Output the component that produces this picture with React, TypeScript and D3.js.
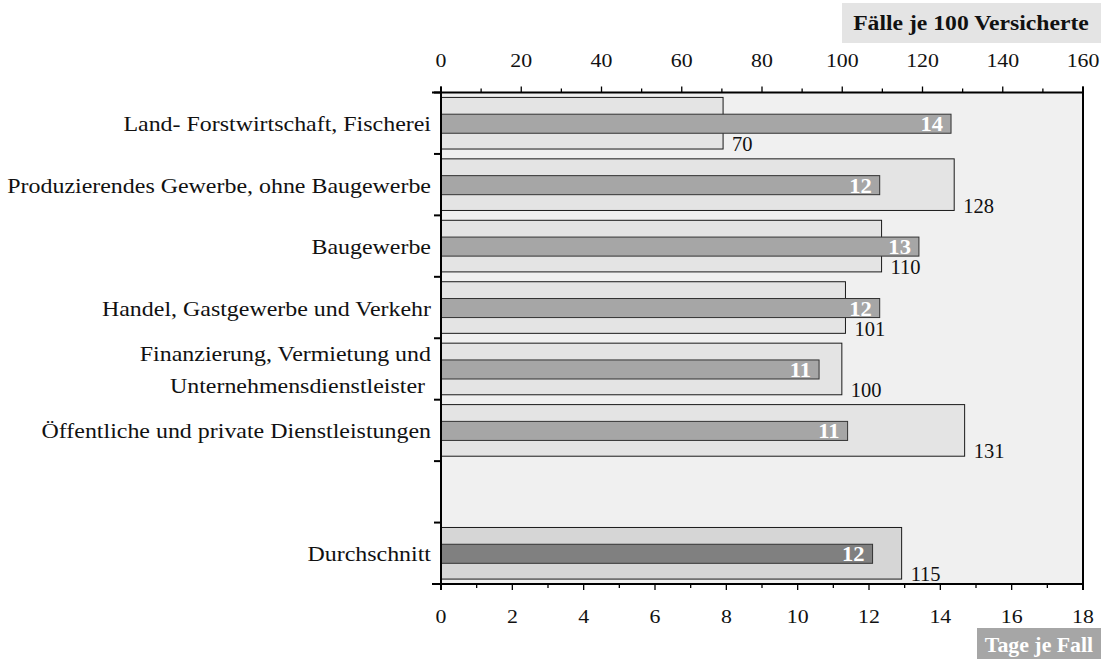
import React from "react";
import * as d3 from "d3";

const categories = [
  "Land- Forstwirtschaft, Fischerei",
  "Produzierendes Gewerbe, ohne Baugewerbe",
  "Baugewerbe",
  "Handel, Gastgewerbe und Verkehr",
  "Finanzierung, Vermietung und|Unternehmensdienstleister",
  "Öffentliche und private Dienstleistungen",
  "",
  "Durchschnitt",
];
const faelle: (number | null)[] = [70.3, 127.9, 109.8, 100.8, 99.9, 130.5, null, 114.8];
const tage: (number | null)[] = [14.3, 12.3, 13.4, 12.3, 10.6, 11.4, null, 12.1];
const topTicks = [0, 20, 40, 60, 80, 100, 120, 140, 160];
const bottomTicks = [0, 2, 4, 6, 8, 10, 12, 14, 16, 18];
const topTitle = "Fälle je 100 Versicherte";
const bottomTitle = "Tage je Fall";

const W = 1101, H = 659;
const L = 441, R = 1083, T = 92.5, B = 584;
const serif = "'Liberation Serif', 'Times New Roman', serif";

export default function App() {
  const xF = d3.scaleLinear().domain([0, 160]).range([L, R]);
  const xT = d3.scaleLinear().domain([0, 18]).range([L, R]);
  const y = d3.scaleBand<string>().domain(categories.map((c, i) => i + "")).range([T, B]).padding(0);
  const bw = y.bandwidth();
  const lightH = bw * 0.84;
  const darkH = bw * 0.31;
  const boundaries = d3.range(categories.length + 1).map((i) => T + i * bw);
  const minorTop = d3.range(0, 161, 10);
  const minorBottom = d3.range(0, 19, 1);
  const sx = 1.14;

  return (
    <svg width={W} height={H} style={{ position: "absolute", left: 0, top: 0, background: "#fff" }}>
      <rect x={L} y={T} width={R - L} height={B - T} fill="#f0f0f0" />
      {categories.map((c, i) => {
        const f = faelle[i];
        const t = tage[i];
        if (f == null || t == null) return null;
        const cy = (y(i + "") as number) + bw / 2;
        const avg = c === "Durchschnitt";
        return (
          <g key={i}>
            <rect x={L} y={cy - lightH / 2} width={xF(f) - L} height={lightH}
              fill={avg ? "#d6d6d6" : "#e4e4e4"} stroke="#1a1a1a" strokeWidth={1} />
            <rect x={L} y={cy - darkH / 2 + 0.5} width={xT(t) - L} height={darkH}
              fill={avg ? "#808080" : "#a6a6a6"} stroke="#333" strokeWidth={1} />
            <text transform={`translate(${xT(t) - 8},${cy + 8}) scale(1.05,1)`} textAnchor="end"
              fontFamily={serif} fontWeight="bold" fontSize={21.5} fill="#fff">{Math.round(t)}</text>
            <text x={xF(f) + 9} y={cy + 28} fontFamily={serif} fontSize={20.5} fill="#111">{Math.round(f)}</text>
          </g>
        );
      })}
      {categories.map((c, i) => {
        if (!c) return null;
        const cy = (y(i + "") as number) + bw / 2;
        const lines = c.split("|");
        return lines.map((ln, k) => {
          const yy = cy + 8 + (k - (lines.length - 1) / 2) * 32;
          const xx = lines.length > 1 && k === 1 ? 425 : 431;
          return (
            <text key={i + "-" + k} transform={`translate(${xx},${yy}) scale(${sx},1)`} textAnchor="end"
              fontFamily={serif} fontSize={21} fill="#111">{ln}</text>
          );
        });
      })}
      {/* frame */}
      <line x1={432} x2={R + 1} y1={T} y2={T} stroke="#000" strokeWidth={2} />
      <line x1={432} x2={R + 1} y1={B} y2={B} stroke="#000" strokeWidth={2} />
      <line x1={L} x2={L} y1={T - 6} y2={B + 6} stroke="#000" strokeWidth={2} />
      <line x1={R} x2={R} y1={T - 6} y2={B + 6} stroke="#000" strokeWidth={2} />
      {boundaries.map((b, i) => (
        <line key={i} x1={434} x2={L} y1={b} y2={b} stroke="#000" strokeWidth={2} />
      ))}
      {/* top axis */}
      {minorTop.map((v) => (
        <line key={v} x1={xF(v)} x2={xF(v)} y1={T} y2={T - (v % 20 === 0 ? 6 : 4)} stroke="#000" strokeWidth={1.3} />
      ))}
      {topTicks.map((v) => (
        <text key={v} transform={`translate(${xF(v)},${66.5}) scale(1.15,1)`} textAnchor="middle"
          fontFamily={serif} fontSize={19} fill="#111">{v}</text>
      ))}
      {/* bottom axis */}
      {minorBottom.map((v) => (
        <line key={v} x1={xT(v)} x2={xT(v)} y1={B} y2={B + (v % 2 === 0 ? 6 : 4)} stroke="#000" strokeWidth={1.3} />
      ))}
      {bottomTicks.map((v) => (
        <text key={v} transform={`translate(${xT(v)},${623}) scale(1.15,1)`} textAnchor="middle"
          fontFamily={serif} fontSize={19} fill="#111">{v}</text>
      ))}
      {/* titles */}
      <rect x={842} y={3} width={259} height={40} fill="#e4e4e4" />
      <text transform={`translate(${971},${30}) scale(1.1,1)`} textAnchor="middle"
        fontFamily={serif} fontWeight="bold" fontSize={21.5} fill="#111">{topTitle}</text>
      <rect x={977} y={628} width={124} height={31} fill="#a6a6a6" />
      <text transform={`translate(${1039},${652}) scale(1.04,1)`} textAnchor="middle"
        fontFamily={serif} fontWeight="bold" fontSize={21} fill="#fff">{bottomTitle}</text>
    </svg>
  );
}
